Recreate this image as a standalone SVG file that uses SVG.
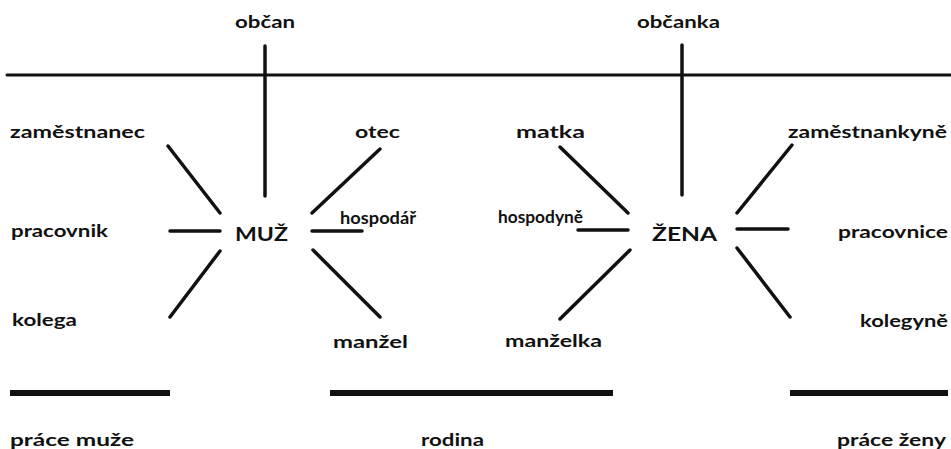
<svg xmlns="http://www.w3.org/2000/svg" width="951" height="449" viewBox="0 0 951 449">
<style>
text{font-family:"Lato","Open Sans","Liberation Sans",sans-serif;font-weight:bold;font-size:16.5px;fill:#111}
.big{font-size:18px}
.ln{stroke:#111;stroke-width:3.5;stroke-linecap:round;fill:none}
.bar{stroke:#111;stroke-width:6;fill:none}
</style>
<rect width="951" height="449" fill="#fff"/>
<g id="connectors">
<line class="ln" x1="7" y1="75" x2="951" y2="75" style="stroke-width:3"/>
<line class="ln" x1="265" y1="46" x2="265" y2="196"/>
<line class="ln" x1="682" y1="45" x2="682" y2="195"/>
<line class="ln" x1="168" y1="146" x2="220" y2="213"/>
<line class="ln" x1="380" y1="149" x2="312" y2="213"/>
<line class="ln" x1="170" y1="231" x2="220" y2="231"/>
<line class="ln" x1="312" y1="231" x2="362" y2="231"/>
<line class="ln" x1="220" y1="251" x2="170" y2="317"/>
<line class="ln" x1="313" y1="250" x2="380" y2="317"/>
<line class="ln" x1="560" y1="147" x2="628" y2="213"/>
<line class="ln" x1="792" y1="145" x2="737" y2="213"/>
<line class="ln" x1="578" y1="230" x2="628" y2="230"/>
<line class="ln" x1="737" y1="229" x2="788" y2="229"/>
<line class="ln" x1="630" y1="250" x2="560" y2="319"/>
<line class="ln" x1="737" y1="248" x2="790" y2="317"/>
<line class="bar" x1="10" y1="393" x2="170" y2="393"/>
<line class="bar" x1="330" y1="393" x2="613" y2="393"/>
<line class="bar" x1="790" y1="393" x2="948" y2="393"/>
</g>
<g id="obcan"><text x="235" y="28" textLength="60" lengthAdjust="spacingAndGlyphs">občan</text></g>
<g id="obcanka"><text x="637" y="28" textLength="83" lengthAdjust="spacingAndGlyphs">občanka</text></g>
<g id="muz"><text class="big" x="235" y="241" textLength="53" lengthAdjust="spacingAndGlyphs">MUŽ</text></g>
<g id="zena"><text class="big" x="652" y="241" textLength="65" lengthAdjust="spacingAndGlyphs">ŽENA</text></g>
<g id="zamestnanec"><text x="10" y="138" textLength="135" lengthAdjust="spacingAndGlyphs">zaměstnanec</text></g>
<g id="otec"><text x="355" y="138" textLength="45" lengthAdjust="spacingAndGlyphs">otec</text></g>
<g id="matka"><text x="516" y="138" textLength="69" lengthAdjust="spacingAndGlyphs">matka</text></g>
<g id="zamestnankyne"><text x="788" y="138" textLength="159" lengthAdjust="spacingAndGlyphs">zaměstnankyně</text></g>
<g id="pracovnik"><text x="11" y="237" textLength="97" lengthAdjust="spacingAndGlyphs">pracovnik</text></g>
<g id="hospodar"><text x="340" y="224" textLength="76" lengthAdjust="spacingAndGlyphs">hospodář</text></g>
<g id="hospodyne"><text x="498" y="223" textLength="85" lengthAdjust="spacingAndGlyphs">hospodyně</text></g>
<g id="pracovnice"><text x="838" y="238" textLength="110" lengthAdjust="spacingAndGlyphs">pracovnice</text></g>
<g id="kolega"><text x="12" y="326" textLength="65" lengthAdjust="spacingAndGlyphs">kolega</text></g>
<g id="kolegyne"><text x="860" y="327" textLength="88" lengthAdjust="spacingAndGlyphs">kolegyně</text></g>
<g id="manzel"><text x="333" y="348" textLength="75" lengthAdjust="spacingAndGlyphs">manžel</text></g>
<g id="manzelka"><text x="505" y="347" textLength="97" lengthAdjust="spacingAndGlyphs">manželka</text></g>
<g id="prace-muze"><text x="10" y="446" textLength="124" lengthAdjust="spacingAndGlyphs">práce muže</text></g>
<g id="rodina"><text x="421" y="446" textLength="63" lengthAdjust="spacingAndGlyphs">rodina</text></g>
<g id="prace-zeny"><text x="837" y="446" textLength="109" lengthAdjust="spacingAndGlyphs">práce ženy</text></g>
</svg>
